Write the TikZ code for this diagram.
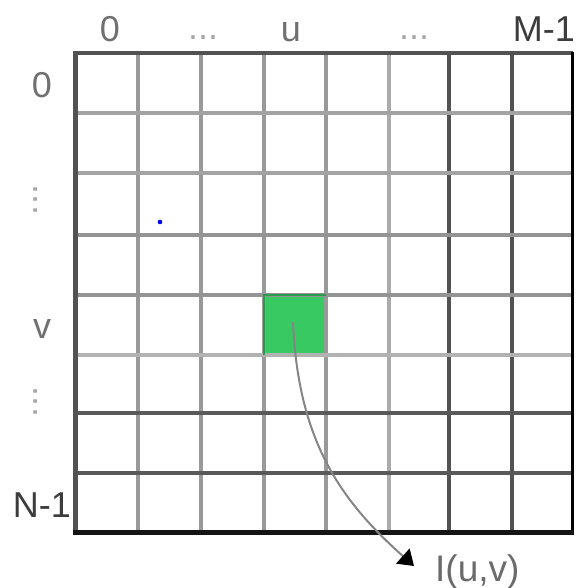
\documentclass[tikz,border=0pt]{standalone}
\usepackage{fontspec}
\setmainfont{Liberation Sans}
\usetikzlibrary{arrows.meta}
\definecolor{lbl}{HTML}{707070}
\definecolor{lbldark}{HTML}{3C3C3C}
\definecolor{dotgray}{HTML}{A8A8A8}
\definecolor{cellgreen}{HTML}{38C962}
\definecolor{cellgreenedge}{HTML}{2A9A4C}
\begin{document}
\begin{tikzpicture}[x=1pt,y=-1pt,
  lab/.style={font=\fontsize{36}{36}\selectfont, text=lbl, inner sep=0pt, anchor=base},
  labdark/.style={lab, text=lbldark},
  dots/.style={font=\fontsize{36}{36}\selectfont, text=dotgray, inner sep=0pt, anchor=base},
  gline/.style={line width=3.5pt, color=#1},
  gline/.default={black!40},
  border/.style={line width=#1},
  connector/.style={draw=black!48, line width=2pt, -{Triangle[length=15pt,width=20pt,color=black,fill=black]}},
]
\useasboundingbox (0,0) rectangle (575,588);
% green cell
\node[fill=cellgreen, minimum width=62pt, minimum height=60pt, inner sep=0pt] (cell) at (295,325) {};
% vertical interior lines
\draw[gline=black!40] (138,53) -- (138,532);
\draw[gline=black!40] (201,53) -- (201,532);
\draw[gline=black!40] (264,53) -- (264,532);
\draw[gline=black!40] (326,53) -- (326,532);
\draw[gline=black!33] (389,53) -- (389,532);
\draw[gline=black!68] (449,53) -- (449,532);
\draw[gline=black!68] (512,53) -- (512,532);
% horizontal interior lines
\draw[gline=black!36] (75,113) -- (572,113);
\draw[gline=black!36] (75,173) -- (572,173);
\draw[gline=black!42] (75,235) -- (572,235);
\draw[gline=black!42] (75,295) -- (572,295);
\draw[gline=black!30] (75,355) -- (572,355);
\draw[gline=black!65] (75,413) -- (572,413);
\draw[gline=black!65] (75,473) -- (572,473);
% darker green edges of the cell
\draw[cellgreenedge, line width=2pt] (cell.south west) -- (cell.north west) -- (cell.north east);
% borders
\draw[border=4pt, draw=black!68] (73,53) -- (573,53);
\draw[border=3pt, draw=black] (572,52) -- (572,534);
\draw[border=5pt, draw=black!68] (75,51) -- (75,534);
\draw[border=5pt, draw=black!92] (73,532) -- (574,532);
% blue dot
\fill[blue] (160,222) circle (2.3pt);
% top labels
\node[lab] (t0) at (110,42) {0};
\node[dots] (td1) at (203,40) {...};
\node[lab] (tu) at (291,42) {u};
\node[dots] (td2) at (414,40) {...};
\node[labdark, anchor=base east] (tm) at (575,42) {M-1};
% left labels
\node[lab] (l0) at (42,98) {0};
\node[dots, rotate=90, anchor=center] (ld1) at (36,200) {...};
\node[lab] (lv) at (42,338) {v};
\node[dots, rotate=90, anchor=center] (ld2) at (36,402) {...};
\node[labdark, anchor=base east] (ln) at (71,517) {N-1};
% output label
\node[lab, font=\fontsize{37}{37}\selectfont, anchor=base west, text=black!58] (out) at (435,581) {I(u,v)};
% connector
\coordinate (start) at (293,322);
\coordinate (end) at (414,566);
\draw[connector] (start) .. controls (298,440) and (340,500) .. (end);
\end{tikzpicture}
\end{document}
